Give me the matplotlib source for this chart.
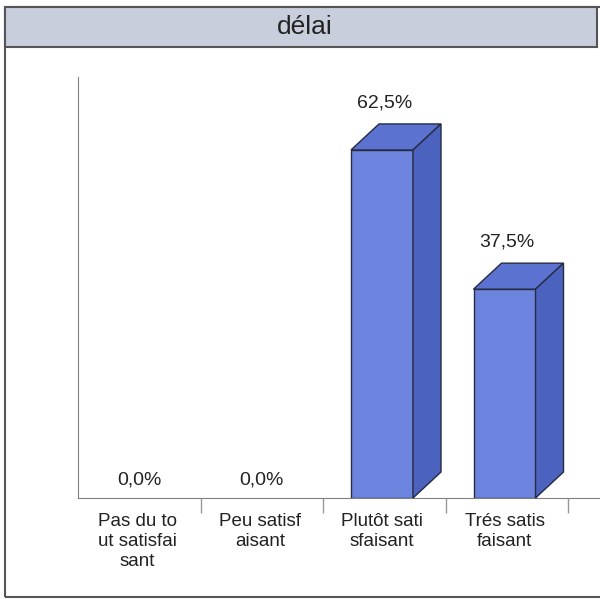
import matplotlib
matplotlib.use('Agg')
import matplotlib.pyplot as plt
from matplotlib.patches import Rectangle, Polygon

plt.rcParams['font.family'] = ['Liberation Sans', 'DejaVu Sans']

title = 'délai'
categories = ['Pas du to\nut satisfai\nsant', 'Peu satisf\naisant',
              'Plutôt sati\nsfaisant', 'Trés satis\nfaisant']
values = [0.0, 0.0, 62.5, 37.5]
value_labels = ['0,0%', '0,0%', '62,5%', '37,5%']

W, H = 600, 599
fig = plt.figure(figsize=(W / 100, H / 100), dpi=100)
fig.patch.set_facecolor('white')

def fx(px):
    return px / W

def fy(py):
    return 1 - py / H

# outer chart frame and title bar
fig.patches.append(Rectangle((fx(5), fy(597)), fx(640), fy(7) - fy(597),
                             transform=fig.transFigure, fill=False,
                             edgecolor='#555555', lw=1.5, zorder=0))
fig.patches.append(Rectangle((fx(5), fy(47)), fx(592), fy(7) - fy(47),
                             transform=fig.transFigure, facecolor='#c9cedd',
                             edgecolor='#555555', lw=1.5, zorder=1))
fig.text(fx(305), fy(27), title, ha='center', va='center', fontsize=19,
         color='#222222')

# plot area: y axis at x=78, baseline at y=498, top at y=77
ax = fig.add_axes([fx(78), fy(498), fx(600) - fx(78), fy(77) - fy(498)])
cat_px = 122.5
ax.set_xlim(0, (600 - 78) / cat_px)
ymax = 75.6
ax.set_ylim(0, ymax)
ax.patch.set_alpha(0)
for s in ['top', 'right']:
    ax.spines[s].set_visible(False)
ax.spines['left'].set_color('#808080')
ax.spines['bottom'].set_color('#808080')
ax.set_yticks([])
ax.set_xticks([1, 2, 3, 4])
ax.set_xticklabels([])
ax.tick_params(axis='x', direction='out', length=11, color='#999999', width=1)

# 3D depth in data units
px_per_val = (498 - 77) / ymax
dx = 28 / cat_px
dy = 26 / px_per_val
bar_w = 62 / cat_px
bar_off = 28 / cat_px

front_c = '#6c84de'
top_c = '#5b72d0'
side_c = '#4b62be'
edge_c = '#262b40'

for i, v in enumerate(values):
    x0 = i + bar_off
    x1 = x0 + bar_w
    if v > 0:
        ax.bar(x0, v, width=bar_w, align='edge', color=front_c,
               edgecolor=edge_c, lw=1.0, zorder=3)
        ax.add_patch(Polygon([(x0, v), (x1, v), (x1 + dx, v + dy), (x0 + dx, v + dy)],
                             closed=True, facecolor=top_c, edgecolor=edge_c,
                             lw=1.0, zorder=3, clip_on=False))
        ax.add_patch(Polygon([(x1, 0), (x1 + dx, dy), (x1 + dx, v + dy), (x1, v)],
                             closed=True, facecolor=side_c, edgecolor=edge_c,
                             lw=1.0, zorder=3, clip_on=False))
        off = 47
    else:
        off = 18
    ax.annotate(value_labels[i], (i + 0.5, v), xytext=(0, off * 0.72),
                textcoords='offset points', ha='center', va='center',
                fontsize=14, color='#222222', annotation_clip=False)

for i, lab in enumerate(categories):
    ax.annotate(lab, (i + 0.5, 0), xytext=(-2 * 0.72, -15 * 0.72),
                textcoords='offset points', ha='center', va='top',
                fontsize=13.5, color='#222222', linespacing=1.25,
                annotation_clip=False)

fig.savefig('out.png', dpi=100)
